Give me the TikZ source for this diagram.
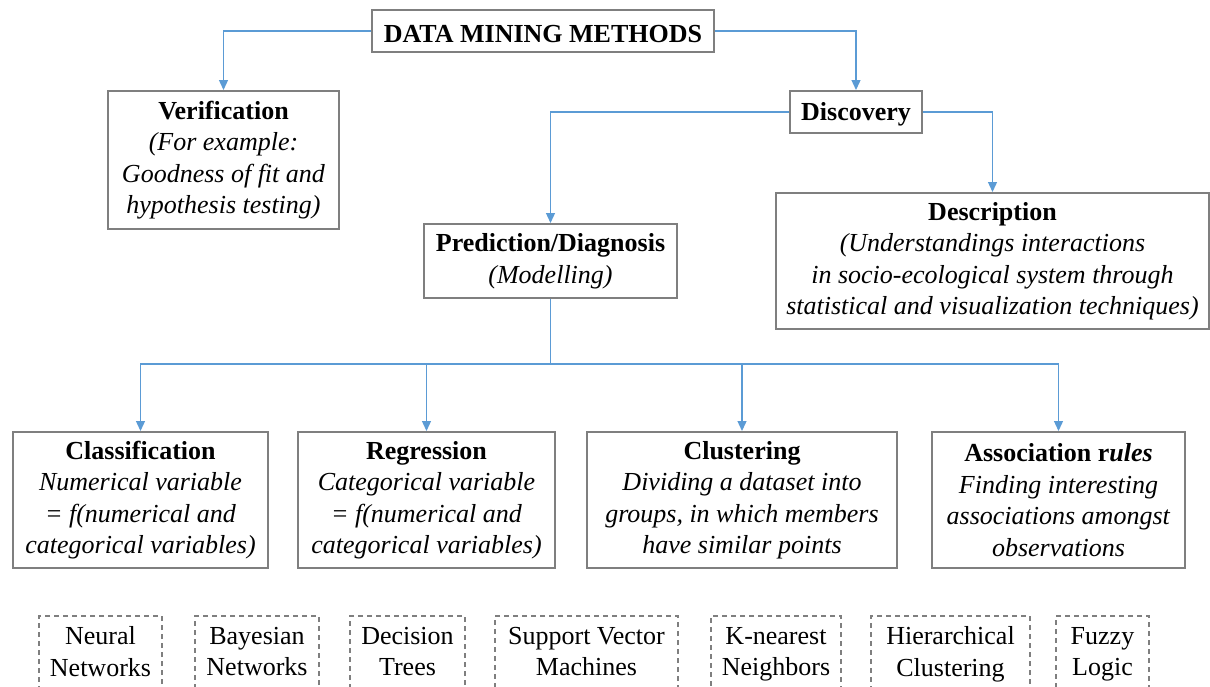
\documentclass[tikz,border=0pt]{standalone}
\usepackage{fontspec}
\setmainfont{Liberation Serif}
\usetikzlibrary{arrows.meta}
\definecolor{linkblue}{HTML}{5B9BD5}
\definecolor{boxgray}{HTML}{7F7F7F}

\begin{document}
\begin{tikzpicture}[x=1pt, y=-1pt,
    box/.style={draw=boxgray, line width=2pt, fill=none, align=center, text=black, inner sep=0pt, font=\fontsize{26}{31.5}\selectfont, execute at begin node=\rule{0pt}{23pt}},
    method/.style={draw=boxgray, line width=1.5pt, dash pattern=on 5pt off 4pt, align=center, text=black, inner sep=0pt, minimum height=80pt, font=\fontsize{26}{31.5}\selectfont, execute at begin node=\strut, execute at end node=\strut},
    link/.style={draw=linkblue, line width=1.3pt, -{Triangle[width=9pt,length=10pt]}},
    trunk/.style={draw=linkblue, line width=1.3pt}]
    \useasboundingbox (0, 0) rectangle (1210, 686);

    \node[box, minimum width=342pt, minimum height=42pt] (dmm) at (543, 31) {\textbf{DATA MINING METHODS}};
    \node[box, minimum width=231pt, minimum height=138pt] (ver) at (223.5, 160) {\textbf{Verification}\\\textit{(For example:}\\\textit{Goodness of fit and}\\\textit{hypothesis testing)}};
    \node[box, minimum width=132pt, minimum height=42pt] (dis) at (856, 112) {\textbf{Discovery}};
    \node[box, minimum width=253pt, minimum height=74pt] (pred) at (550.5, 261) {\textbf{Prediction/Diagnosis}\\\textit{(Modelling)}};
    \node[box, minimum width=433pt, minimum height=136pt] (desc) at (992.5, 261) {\textbf{Description}\\\textit{(Understandings interactions}\\\textit{in socio-ecological system through}\\\textit{statistical and visualization techniques)}};
    \node[box, minimum width=255pt, minimum height=136pt] (cls) at (140.5, 500) {\textbf{Classification}\\\textit{Numerical variable}\\\textit{= f(numerical and}\\\textit{categorical variables)}};
    \node[box, minimum width=257pt, minimum height=136pt] (reg) at (426.5, 500) {\textbf{Regression}\\\textit{Categorical variable}\\\textit{= f(numerical and}\\\textit{categorical variables)}};
    \node[box, minimum width=310pt, minimum height=136pt] (clu) at (742, 500) {\textbf{Clustering}\\\textit{Dividing a dataset into}\\\textit{groups, in which members}\\\textit{have similar points}};
    \node[box, minimum width=253pt, minimum height=136pt] (asr) at (1058.5, 500) {\textbf{Association r\textit{ules}}\\\textit{Finding interesting}\\\textit{associations amongst}\\\textit{observations}};

    \node[method, minimum width=123pt] (nn) at (100.5, 656) {Neural\\Networks};
    \node[method, minimum width=124pt] (bn) at (257, 656) {Bayesian\\Networks};
    \node[method, minimum width=115pt] (dt) at (407.5, 656) {Decision\\Trees};
    \node[method, minimum width=183pt] (svm) at (586.5, 656) {Support Vector\\Machines};
    \node[method, minimum width=130pt] (knn) at (776, 656) {K-nearest\\Neighbors};
    \node[method, minimum width=159pt] (hc) at (950.5, 656) {Hierarchical\\Clustering};
    \node[method, minimum width=93pt] (fl) at (1102.5, 656) {Fuzzy\\Logic};

    \coordinate (hub) at (550.5, 364);

    \draw [link] (dmm.west) -| (ver.north);
    \draw [link] (dmm.east) -| (dis.north);
    \draw [link] (dis.west) -| (pred.north);
    \draw [link] (dis.east) -| (desc.north);
    \draw [trunk] (pred.south) -- (hub);
    \draw [link] (hub) -| (cls.north);
    \draw [link] (hub) -| (reg.north);
    \draw [link] (hub) -| (clu.north);
    \draw [link] (hub) -| (asr.north);
\end{tikzpicture}
\end{document}
